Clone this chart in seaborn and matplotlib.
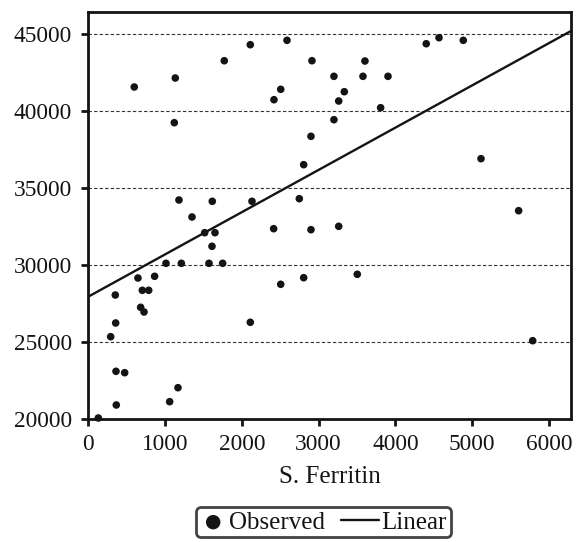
import matplotlib
matplotlib.use("Agg")
import matplotlib.pyplot as plt
from matplotlib.legend_handler import HandlerLine2D
import seaborn as sns
import numpy as np
import pandas as pd

ferritin = [600, 1134, 1121, 1772, 2111, 2589, 2914, 3200, 2507, 2419,
            3262, 3200, 2901, 2806, 2749, 1182, 1616, 2133, 1352, 3604,
            3578, 3904, 3335, 3808, 4402, 4568, 4884, 5115, 5605, 2415,
            2901, 3262, 1517, 1651, 1612, 1013, 1213, 1573, 1751, 648,
            865, 353, 705, 788, 683, 727, 358, 293, 2507, 2806,
            2111, 362, 475, 1169, 1061, 366, 132, 3504, 5788]
response = [41580, 42164, 39262, 43287, 44326, 44612, 43287, 42274, 41430, 40755,
            40670, 39456, 38378, 36535, 34327, 34241, 34157, 34157, 33137, 43267,
            42274, 42274, 41274, 40235, 44391, 44781, 44612, 36925, 33547, 32378,
            32313, 32533, 32118, 32118, 31235, 30130, 30130, 30130, 30130, 29176,
            29286, 28072, 28377, 28377, 27273, 26968, 26254, 25364, 28767, 29195,
            26299, 23117, 23026, 22052, 21143, 20929, 20084, 29416, 25104]

fit_intercept = 27960
fit_slope = 2.745
x_limits = [0, 6283]
y_limits = [20000, 46470]
x_ticks = [0, 1000, 2000, 3000, 4000, 5000, 6000]
y_ticks = [20000, 25000, 30000, 35000, 40000, 45000]

df = pd.DataFrame({"S. Ferritin": ferritin, "Value": response})
fit_df = pd.DataFrame({"S. Ferritin": x_limits})
fit_df["Value"] = fit_intercept + fit_slope * fit_df["S. Ferritin"]

sns.set_theme(style="white")
plt.rcParams["font.family"] = ["Liberation Serif", "DejaVu Serif"]

FS = 16.8
FS_TXT = 18
fig = plt.figure(figsize=(5.76, 5.42), dpi=100)
ax = fig.add_axes([0.1531, 0.2264, 0.9908 - 0.1531, 0.9784 - 0.2264])

for yv in y_ticks[1:]:
    ax.axhline(yv, color="#333333", lw=0.8, ls=(0, (3, 2)), zorder=0)

sns.scatterplot(data=df, x="S. Ferritin", y="Value", ax=ax, color="#141414",
                s=30, edgecolor="none", label="Observed", clip_on=False, zorder=3)
sns.lineplot(data=fit_df, x="S. Ferritin", y="Value", ax=ax, color="#141414",
             lw=1.7, label="Linear", zorder=2)

ax.set_xlim(*x_limits)
ax.set_ylim(*y_limits)
ax.set_xticks(x_ticks)
ax.set_yticks(y_ticks)
ax.set_xlabel("S. Ferritin", fontsize=FS_TXT, labelpad=8, color="#141414")
ax.set_ylabel("")
ax.tick_params(axis="both", labelsize=FS, length=5, width=2, color="#141414",
               labelcolor="#141414", direction="out", bottom=True, left=True)
ax.tick_params(axis="x", pad=5.3)
ax.tick_params(axis="y", pad=6.5)
for sp in ax.spines.values():
    sp.set_color("#141414")
    sp.set_linewidth(2)


class LongLine(HandlerLine2D):
    def get_xdata(self, legend, xdescent, ydescent, width, height, fontsize):
        xdata = np.array([-xdescent - 0.38 * width, -xdescent + width])
        return xdata, np.array([-xdescent + 0.5 * width])


ax.get_legend().remove()
h, l = ax.get_legend_handles_labels()
leg = fig.legend(h, l, loc="center", bbox_to_anchor=(0.561, 0.036), ncol=2,
                 fontsize=FS_TXT, frameon=True, fancybox=True, markerscale=1.9,
                 handlelength=1.1, handletextpad=0.09, columnspacing=1.06,
                 borderpad=0.15, edgecolor="#141414",
                 handler_map={h[1]: LongLine()})
leg.get_frame().set_linewidth(2)
for t in leg.get_texts():
    t.set_color("#141414")

fig.savefig("out.png", dpi=100)
